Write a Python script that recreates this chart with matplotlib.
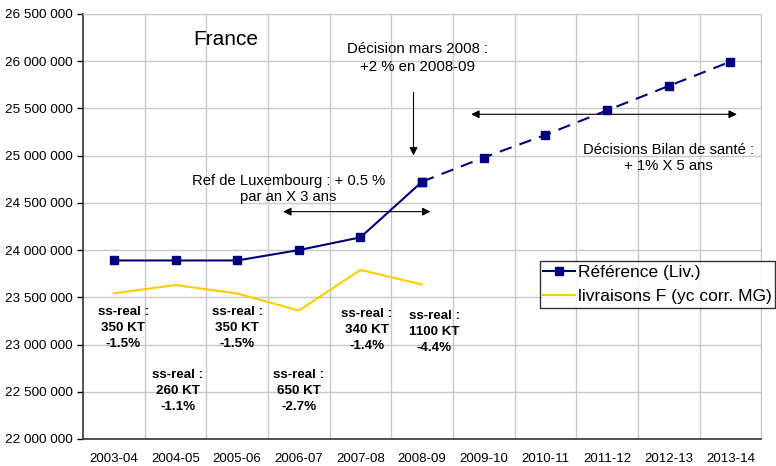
import matplotlib
matplotlib.use("Agg")
from matplotlib import pyplot as plt
from matplotlib.ticker import FuncFormatter, MultipleLocator, FixedLocator

plt.rcParams['font.family'] = ['Liberation Sans', 'DejaVu Sans']

seasons = ['2003-04', '2004-05', '2005-06', '2006-07', '2007-08', '2008-09',
           '2009-10', '2010-11', '2011-12', '2012-13', '2013-14']
reference = [23890000, 23890000, 23890000, 24000000, 24135000, 24725000,
             24980000, 25220000, 25480000, 25738000, 25995000]
deliveries = [23542000, 23630000, 23540000, 23360000, 23790000, 23635000]

# under-realisation notes: (x position, y position, text)
ss_real_notes = [
    (0.15, 23175000, 'ss-real :\n350 KT\n-1.5%'),
    (1.04, 22508000, 'ss-real :\n260 KT\n-1.1%'),
    (2.0, 23175000, 'ss-real :\n350 KT\n-1.5%'),
    (3.0, 22508000, 'ss-real :\n650 KT\n-2.7%'),
    (4.1, 23154000, 'ss-real :\n340 KT\n-1.4%'),
    (5.2, 23133000, 'ss-real :\n1100 KT\n-4.4%'),
]

navy = '#000080'
yellow = '#FFCC00'

fig = plt.figure(figsize=(7.76, 4.66), dpi=100)
ax = fig.add_axes([0.107, 0.058, 0.874, 0.912])

x = list(range(len(seasons)))
n_real = len(deliveries)

ax.plot(x[:n_real], reference[:n_real], color=navy, lw=1.5, marker='s',
        ms=6, label='Référence (Liv.)', zorder=4)
ax.plot(x[n_real - 1:], reference[n_real - 1:], color=navy, lw=1.5,
        ls=(0, (6, 4)), marker='s', ms=6, zorder=4)
ax.plot(x[:n_real], deliveries, color=yellow, lw=1.5,
        label='livraisons F (yc corr. MG)', zorder=3)

ax.set_xlim(-0.5, len(seasons) - 0.5)
ax.set_ylim(22000000, 26500000)
ax.yaxis.set_major_locator(MultipleLocator(500000))
ax.yaxis.set_major_formatter(FuncFormatter(lambda v, p: f'{int(v):,}'.replace(',', ' ')))
ax.set_xticks(x)
ax.set_xticklabels(seasons)
ax.xaxis.set_minor_locator(FixedLocator([i + 0.5 for i in range(len(seasons))]))
ax.tick_params(axis='x', which='both', length=0, labelsize=9.5, pad=10)
ax.tick_params(axis='y', length=4, labelsize=9.7, width=1)

ax.grid(axis='y', which='major', color='#c8c8c8', lw=1)
ax.grid(axis='x', which='minor', color='#c8c8c8', lw=1)
ax.set_axisbelow(True)
for side in ['top', 'right']:
    ax.spines[side].set_color('#c8c8c8')
for side in ['left', 'bottom']:
    ax.spines[side].set_color('#333333')
    ax.spines[side].set_linewidth(1.2)

ax.text(1.82, 26225000, 'France', fontsize=15, ha='center', va='center')
ax.text(4.92, 26034000, 'Décision mars 2008 :\n+2 % en 2008-09',
        fontsize=10.8, ha='center', va='center', linespacing=1.3)
ax.annotate('', xy=(4.86, 24972000), xytext=(4.86, 25700000),
            arrowprops=dict(arrowstyle='-|>', color='black', lw=0.8, mutation_scale=12))
ax.text(2.83, 24647000, 'Ref de Luxembourg : + 0.5 %\npar an X 3 ans',
        fontsize=10.6, ha='center', va='center', linespacing=1.15)
ax.annotate('', xy=(2.70, 24407000), xytext=(5.18, 24407000),
            arrowprops=dict(arrowstyle='<|-|>', color='black', lw=0.8, mutation_scale=12))
ax.annotate('', xy=(5.75, 25438000), xytext=(10.15, 25438000),
            arrowprops=dict(arrowstyle='<|-|>', color='black', lw=0.8, mutation_scale=12))
ax.text(9.0, 24975000, 'Décisions Bilan de santé :\n+ 1% X 5 ans',
        fontsize=10.7, ha='center', va='center', linespacing=1.15)

for nx, ny, note in ss_real_notes:
    ax.text(nx, ny, note, fontsize=9.6, fontweight='bold', ha='center',
            va='center', linespacing=1.45)

leg = ax.legend(loc='upper left', bbox_to_anchor=(540 / 776, 1 - 261 / 466),
                bbox_transform=fig.transFigure, fontsize=12.5, frameon=True,
                fancybox=False, borderpad=0.2, handlelength=1.8,
                handletextpad=0.2, labelspacing=0.55, borderaxespad=0)
leg.get_frame().set_edgecolor('black')
leg.get_frame().set_linewidth(1)

fig.savefig('out.png', dpi=100)
